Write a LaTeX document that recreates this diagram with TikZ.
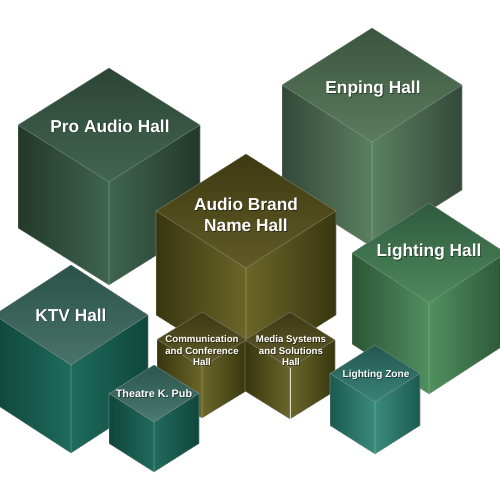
\documentclass[tikz,border=0pt]{standalone}
\usepackage{fontspec}
\setmainfont{Liberation Sans}
\definecolor{proD}{HTML}{233828}\definecolor{proL}{HTML}{3F6450}\definecolor{proT}{HTML}{2C4535}\definecolor{proB}{HTML}{426552}
\definecolor{enpD}{HTML}{33493A}\definecolor{enpL}{HTML}{5B8060}\definecolor{enpT}{HTML}{3A553F}\definecolor{enpB}{HTML}{5A7D5C}
\definecolor{brD}{HTML}{38360F}\definecolor{brL}{HTML}{6B6629}\definecolor{brT}{HTML}{3D3A12}\definecolor{brB}{HTML}{605B26}
\definecolor{lhD}{HTML}{2C5536}\definecolor{lhL}{HTML}{50905F}\definecolor{lhT}{HTML}{2E5B3D}\definecolor{lhB}{HTML}{4F8A5D}
\definecolor{ktvD}{HTML}{0E463B}\definecolor{ktvL}{HTML}{1F6B5C}\definecolor{ktvT}{HTML}{2A5249}\definecolor{ktvB}{HTML}{4A736A}
\definecolor{cmD}{HTML}{38360F}\definecolor{cmL}{HTML}{6B6629}\definecolor{cmT}{HTML}{3D3A14}\definecolor{cmB}{HTML}{635E2C}
\definecolor{thD}{HTML}{10463C}\definecolor{thL}{HTML}{216A5C}\definecolor{thT}{HTML}{2A564D}\definecolor{thB}{HTML}{4C7A70}
\definecolor{lzD}{HTML}{1C5A50}\definecolor{lzL}{HTML}{3A8B7B}\definecolor{lzT}{HTML}{23574F}\definecolor{lzB}{HTML}{3A8478}
\newcommand\cubeshape[6]{%
  \fill[left color=#6D, right color=#6L] ({#1-#3},{#2+#4}) -- (#1,{#2+2*#4}) -- (#1,{#2+2*#4+#5}) -- ({#1-#3},{#2+#4+#5}) -- cycle;
  \fill[left color=#6L, right color=#6D] (#1,{#2+2*#4}) -- ({#1+#3},{#2+#4}) -- ({#1+#3},{#2+#4+#5}) -- (#1,{#2+2*#4+#5}) -- cycle;
  \fill[top color=#6T, bottom color=#6B] (#1,#2) -- ({#1+#3},{#2+#4}) -- (#1,{#2+2*#4}) -- ({#1-#3},{#2+#4}) -- cycle;
  \draw[cubeedge] (#1,#2) -- ({#1+#3},{#2+#4}) -- ({#1+#3},{#2+#4+#5}) -- (#1,{#2+2*#4+#5}) -- ({#1-#3},{#2+#4+#5}) -- ({#1-#3},{#2+#4}) -- cycle;
  \draw[cubeedge] ({#1-#3},{#2+#4}) -- (#1,{#2+2*#4}) -- ({#1+#3},{#2+#4}) (#1,{#2+2*#4}) -- (#1,{#2+2*#4+#5});
}
\tikzset{
  cubeedge/.style={draw=white, draw opacity=0.3, line width=0.6pt, line join=round},
  biglabel/.style={text=white, font=\bfseries\fontsize{17.3}{21}\selectfont, align=center, inner sep=0pt},
  smalllabel/.style={text=white, font=\bfseries\fontsize{9.7}{11.5}\selectfont, align=center, inner sep=0pt},
  shadowlabel/.style={text=black, text opacity=0.45},
}
\newcommand\cubelabel[5]{%
  \node[#4, shadowlabel] (#1s) at ({#2+0.8},{#3+0.8}) {#5};
  \node[#4] (#1) at (#2,#3) {#5};
}
\begin{document}
\begin{tikzpicture}[x=1pt, y=-1pt]
\useasboundingbox (0,0) rectangle (500,500);
\fill[white] (0,0) rectangle (500,500);
\clip (0,0) rectangle (500,500);
\cubeshape{109}{68}{91}{57}{103}{pro}
\cubeshape{372}{28}{90}{57}{105}{enp}
\cubeshape{246}{154}{90}{57}{104}{br}
\cubeshape{429}{203}{77}{50}{91}{lh}
\cubeshape{71}{265}{77}{50}{88}{ktv}
\cubeshape{202}{312}{45}{27.5}{51}{cm}
\cubeshape{290}{312}{45}{28}{51}{cm}
\draw[white, draw opacity=0.75, line width=0.8pt] (290,368) -- (290,419);
\cubeshape{154}{365}{45}{28.5}{50}{th}
\cubeshape{375}{345}{45}{28.5}{52}{lz}
\cubelabel{pro}{110}{126}{biglabel}{Pro Audio Hall}
\cubelabel{enp}{373}{89}{biglabel}{Enping Hall}
\cubelabel{brand}{246}{215}{biglabel}{Audio Brand\\Name Hall}
\cubelabel{lh}{429}{252}{biglabel}{Lighting Hall}
\cubelabel{ktv}{71}{315}{biglabel}{KTV Hall}
\cubelabel{comm}{202}{351}{smalllabel}{Communication\\and Conference\\Hall}
\cubelabel{media}{291}{351}{smalllabel}{Media Systems\\and Solutions\\Hall}
\cubelabel{theatre}{154}{394}{smalllabel, font=\bfseries\fontsize{10.8}{13}\selectfont}{Theatre K. Pub}
\cubelabel{lz}{376}{375}{smalllabel, font=\bfseries\fontsize{10.1}{12}\selectfont}{Lighting Zone}
\end{tikzpicture}
\end{document}
